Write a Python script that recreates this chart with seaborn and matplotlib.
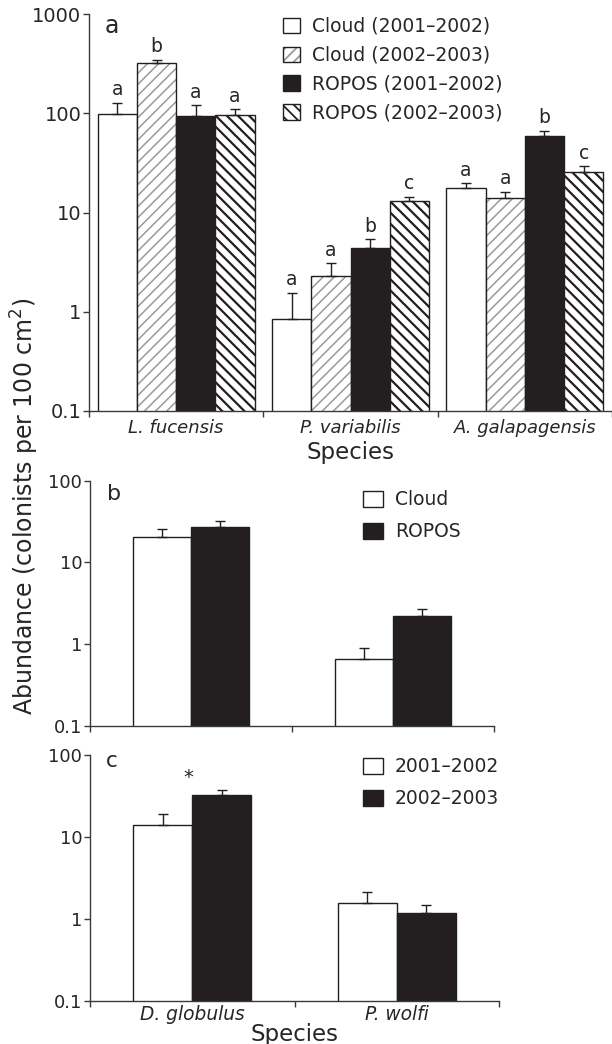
import numpy as np
import pandas as pd
import matplotlib
matplotlib.use("Agg")
import matplotlib.pyplot as plt
import seaborn as sns
from matplotlib.patches import Patch
from matplotlib.ticker import FixedLocator, NullLocator
from matplotlib.colors import to_rgba

# ---------------- data ----------------
species_a = ["L. fucensis", "P. variabilis", "A. galapagensis"]
groups_a = ["Cloud (2001–2002)", "Cloud (2002–2003)", "ROPOS (2001–2002)", "ROPOS (2002–2003)"]
cloud_0102 = [98, 0.84, 17.5]
cloud_0102_se = [29, 0.71, 2.2]
cloud_0203 = [321, 2.29, 14.1]
cloud_0203_se = [26, 0.78, 2.1]
ropos_0102 = [94, 4.38, 59]
ropos_0102_se = [27, 0.99, 8.0]
ropos_0203 = [96, 13.0, 25.5]
ropos_0203_se = [14, 1.4, 3.8]
letters_a = [["a", "a", "a"], ["b", "a", "a"], ["a", "b", "b"], ["a", "c", "c"]]

species_bc = ["D. globulus", "P. wolfi"]
groups_b = ["Cloud", "ROPOS"]
cloud_b = [20.5, 0.66]
cloud_b_se = [5.2, 0.25]
ropos_b = [26.9, 2.19]
ropos_b_se = [5.3, 0.52]

groups_c = ["2001–2002", "2002–2003"]
c_0102 = [13.9, 1.57]
c_0102_se = [5.0, 0.57]
c_0203 = [32.6, 1.18]
c_0203_se = [4.4, 0.29]

yticks = [0.1, 1, 10, 100, 1000]
ytick_labels = ["0.1", "1", "10", "100", "1000"]

# ---------------- style ----------------
sns.set_style("ticks")
plt.rcParams["font.family"] = ["DejaVu Sans"]
plt.rcParams["hatch.linewidth"] = 1.3

BLACK = "#231f20"
EDGE = "#231f20"
SPINE = "#3a3a3a"
W, H = 612, 1044

STY_WHITE = dict(fc="white", hatch=None, hc=None, hlw=None)
STY_GRAYH = dict(fc="white", hatch="///", hc="#9a9a9a", hlw=1.1)
STY_BLACK = dict(fc=BLACK, hatch=None, hc=None, hlw=None)
STY_BLACKH = dict(fc="white", hatch="\\\\\\", hc=BLACK, hlw=1.6)


def long_df(species, groups, vals, ses):
    rows = []
    for g, v, s in zip(groups, vals, ses):
        for sp, vv, ss in zip(species, v, s):
            rows.append(dict(species=sp, group=g, value=vv, se=ss))
    return pd.DataFrame(rows)


def apply_hatch(p, st):
    if st["hatch"]:
        p.set_hatch(st["hatch"])
        if hasattr(p, "set_hatchcolor"):
            p.set_hatchcolor(st["hc"])
        else:
            p._hatch_color = to_rgba(st["hc"])
        if st["hlw"] is not None and hasattr(p, "set_hatch_linewidth"):
            p.set_hatch_linewidth(st["hlw"])


fig = plt.figure(figsize=(W / 100, H / 100), dpi=100)


def fig_rect(x0, x1, ytop, ybot):
    return [x0 / W, 1 - ybot / H, (x1 - x0) / W, (ybot - ytop) / H]


def draw_panel(ax, df, species, groups, styles, width, ylim, tick_fs, show_labels,
               label_fs, label_pad):
    sns.barplot(data=df, x="species", y="value", hue="group", order=species,
                hue_order=groups, palette=[s["fc"] for s in styles], width=width,
                dodge=True, errorbar=None, edgecolor=EDGE, linewidth=1.0,
                saturation=1, legend=False, ax=ax)
    ax.set_yscale("log")
    ax.set_ylim(*ylim)
    ax.set_xlim(-0.5, len(species) - 0.5)
    for cont, st, g in zip(ax.containers, styles, groups):
        sub = df[df["group"] == g].set_index("species").loc[species]
        xs, ys = [], []
        for p in cont.patches:
            apply_hatch(p, st)
            xs.append(p.get_x() + p.get_width() / 2)
            ys.append(p.get_height())
        ax.errorbar(xs, ys, yerr=[np.zeros(len(xs)), sub["se"].values], fmt="none",
                    ecolor=BLACK, elinewidth=1.0, capsize=3.5, capthick=1.0, zorder=3)
    sns.despine(ax=ax)
    for s in ("left", "bottom"):
        ax.spines[s].set_color(SPINE)
        ax.spines[s].set_linewidth(1.0)
    ax.yaxis.set_major_locator(FixedLocator(yticks))
    ax.set_yticklabels(ytick_labels)
    ax.yaxis.set_minor_locator(NullLocator())
    ax.set_ylim(*ylim)
    ax.tick_params(axis="y", which="major", length=4, width=1.0, color=SPINE,
                   labelsize=tick_fs, pad=1.5)
    bounds = np.arange(len(species) + 1) - 0.5
    ax.set_xticks(bounds)
    ax.set_xticklabels([""] * len(bounds))
    ax.tick_params(axis="x", which="major", length=4, width=1.0, color=SPINE)
    ax.set_xticks(np.arange(len(species)), minor=True)
    if show_labels:
        ax.set_xticklabels(species, minor=True, fontsize=label_fs, style="italic")
    else:
        ax.set_xticklabels([""] * len(species), minor=True)
    ax.tick_params(axis="x", which="minor", length=0, pad=label_pad)
    ax.set_ylabel("")
    ax.set_xlabel("")
    return ax


def add_legend(ax, groups, styles, x_px, top_px, fs, hl, hh, spacing):
    handles = []
    for g, st in zip(groups, styles):
        h = Patch(facecolor=st["fc"], edgecolor=EDGE, linewidth=1.0,
                  hatch=st["hatch"], label=g)
        apply_hatch(h, st)
        handles.append(h)
    leg = ax.legend(handles=handles, loc="upper left",
                    bbox_to_anchor=(x_px / W, 1 - top_px / H),
                    bbox_transform=fig.transFigure, frameon=False, fontsize=fs,
                    handlelength=hl, handleheight=hh, handletextpad=0.65,
                    labelspacing=spacing, borderpad=0, borderaxespad=0)
    return leg


# ---------- panel a ----------
ax_a = fig.add_axes(fig_rect(89, 612, 14, 411))
df_a = long_df(species_a, groups_a,
               [cloud_0102, cloud_0203, ropos_0102, ropos_0203],
               [cloud_0102_se, cloud_0203_se, ropos_0102_se, ropos_0203_se])
styles_a = [STY_WHITE, STY_GRAYH, STY_BLACK, STY_BLACKH]
draw_panel(ax_a, df_a, species_a, groups_a, styles_a, 0.9, (0.1, 1000), 14, True, 13, 6)
ax_a.set_xlabel("Species", fontsize=16.5, labelpad=3)
for cont, g, lets in zip(ax_a.containers, groups_a, letters_a):
    sub = df_a[df_a["group"] == g].set_index("species").loc[species_a]
    for p, top, let in zip(cont.patches, (sub["value"] + sub["se"]).values, lets):
        ax_a.annotate(let, (p.get_x() + p.get_width() / 2, top), xytext=(0, 2.5),
                      textcoords="offset points", ha="center", va="bottom", fontsize=13.5)
add_legend(ax_a, groups_a, styles_a, 283, 17, 13.5, 0.9, 0.9, 0.52)
fig.text(105 / W, 1 - 33 / H, "a", fontsize=17, ha="left", va="baseline")

# ---------- panel b ----------
ax_b = fig.add_axes(fig_rect(90, 494, 480.7, 726))
df_b = long_df(species_bc, groups_b, [cloud_b, ropos_b], [cloud_b_se, ropos_b_se])
styles_b = [STY_WHITE, STY_BLACK]
draw_panel(ax_b, df_b, species_bc, groups_b, styles_b, 0.575, (0.1, 100), 13, False, 13.4, 4)
add_legend(ax_b, groups_b, styles_b, 363, 490, 13.5, 1.05, 0.93, 0.7)
fig.text(107 / W, 1 - 500 / H, "b", fontsize=16, ha="left", va="baseline")

# ---------- panel c ----------
ax_c = fig.add_axes(fig_rect(90, 499, 755, 1001))
df_c = long_df(species_bc, groups_c, [c_0102, c_0203], [c_0102_se, c_0203_se])
styles_c = [STY_WHITE, STY_BLACK]
draw_panel(ax_c, df_c, species_bc, groups_c, styles_c, 0.575, (0.1, 100), 13, True, 13.4, 3)
ax_c.set_xlabel("Species", fontsize=16.5, labelpad=-1)
add_legend(ax_c, groups_c, styles_c, 363, 757, 13.5, 1.05, 0.93, 0.7)
fig.text(106 / W, 1 - 767 / H, "c", fontsize=15.5, ha="left", va="baseline")
ax_c.text(-0.02, 45.5, "*", ha="center", va="baseline", fontsize=14)

# shared y label
fig.text(25 / W, 1 - 506 / H, "Abundance (colonists per 100 cm$^2$)", rotation=90,
         ha="center", va="center", fontsize=17)

fig.savefig("out.png", dpi=100)
